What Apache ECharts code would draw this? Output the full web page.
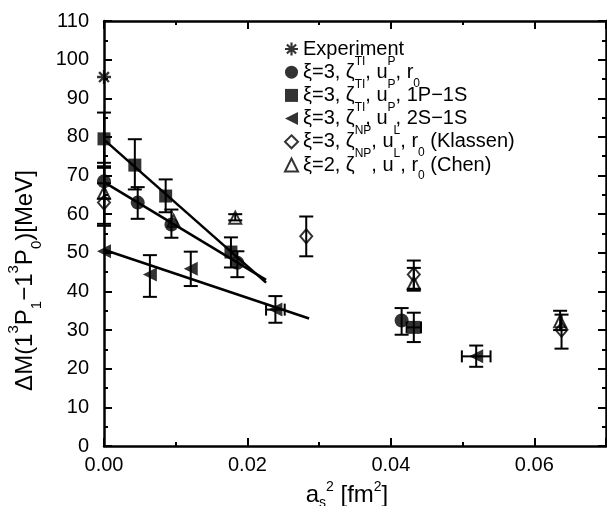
<!DOCTYPE html>
<html>
<head>
<meta charset="utf-8">
<title>1P fine structure vs a_s^2</title>
<script src="https://cdn.jsdelivr.net/npm/echarts@6/dist/echarts.min.js"></script>
<style>
  html, body { margin: 0; padding: 0; background: #fff; }
  #chart { width: 607px; height: 506px; }
</style>
</head>
<body>
<div id="chart"></div>
<script>
// each row: [a_s^2, dM, lower end of error, upper end of error, x error]
const experiment = [[0, 95.5, 95.5, 95.5, 0]]
const tiR0 = [
  [0, 68.5, 64.0, 73.3, 0],
  [0.0047, 63.0, 58.8, 67.0, 0],
  [0.0094, 57.3, 53.9, 61.2, 0],
  [0.0186, 47.4, 43.7, 50.4, 0],
  [0.0415, 32.5, 28.8, 35.7, 0]
]
const ti1P1S = [
  [0, 79.5, 72.4, 86.3, 0],
  [0.0043, 72.7, 66.4, 79.4, 0],
  [0.0086, 64.7, 60.5, 69.0, 0],
  [0.0177, 50.2, 46.2, 54.0, 0],
  [0.0432, 30.7, 26.9, 34.5, 0.001]
]
const ti2S1S = [
  [0, 50.4, 50.4, 50.4, 0],
  [0.0064, 44.4, 38.6, 49.4, 0],
  [0.0121, 45.9, 41.4, 50.3, 0],
  [0.0239, 35.3, 31.9, 38.8, 0.0013],
  [0.0519, 23.2, 20.5, 26.0, 0.002]
]
const klassen = [
  [0, 63.0, 57.5, 68.0, 0],
  [0.0282, 54.3, 49.1, 59.4, 0],
  [0.0432, 44.4, 40.2, 48.0, 0],
  [0.0638, 30.1, 25.2, 34.0, 0]
]
const chen = [
  [0, 65.6, 57.0, 72.0, 0],
  [0.0097, 58.3, 58.3, 58.3, 0],
  [0.0183, 59.1, 58.4, 60.0, 0],
  [0.0432, 42.2, 40.7, 46.1, 0],
  [0.0636, 32.3, 30.0, 35.0, 0]
]
// linear fits drawn in the figure
const fit1P1S = [[0, 79.3], [0.0226, 42.3]]
const fitR0 = [[0, 68.3], [0.0226, 43.0]]
const fit2S1S = [[0, 50.8], [0.0286, 33.0]]

const font = 'Liberation Sans, Arial, sans-serif'
const names = ['Experiment', 'tiR0', 'ti1P1S', 'ti2S1S', 'klassen', 'chen']
const legendText = {
  Experiment: 'Experiment',
  tiR0: 'ξ=3, ζ{sup|TI}, u{sup|P}, r{sub|0}',
  ti1P1S: 'ξ=3, ζ{sup|TI}, u{sup|P}, 1P−1S',
  ti2S1S: 'ξ=3, ζ{sup|TI}, u{sup|P}, 2S−1S',
  klassen: 'ξ=3, ζ{sup|NP}, u{sup|L}, r{sub|0} (Klassen)',
  chen: 'ξ=2, ζ{sup|NP}, u{sup|L}, r{sub|0} (Chen)'
}

const starPath = 'path://M-1,-6 L1,-6 L1,6 L-1,6 Z M-6,-1 L6,-1 L6,1 L-6,1 Z ' +
  'M-4.95,-3.54 L-3.54,-4.95 L4.95,3.54 L3.54,4.95 Z ' +
  'M-3.54,4.95 L-4.95,3.54 L3.54,-4.95 L4.95,-3.54 Z'
const leftTri = 'path://M0,5 L10,0 L10,10 Z'

function errorBars(params, api) {
  const x = api.value(0)
  const y = api.value(1)
  const lo = api.value(2)
  const hi = api.value(3)
  const xe = api.value(4)
  const style = { stroke: '#000', lineWidth: 2 }
  const cap = 7
  const children = []
  if (hi > lo) {
    const a = api.coord([x, lo])
    const b = api.coord([x, hi])
    children.push({ type: 'line', shape: { x1: a[0], y1: a[1], x2: b[0], y2: b[1] }, style })
    children.push({ type: 'line', shape: { x1: a[0] - cap, y1: a[1], x2: a[0] + cap, y2: a[1] }, style })
    children.push({ type: 'line', shape: { x1: b[0] - cap, y1: b[1], x2: b[0] + cap, y2: b[1] }, style })
  }
  if (xe > 0) {
    const l = api.coord([x - xe, y])
    const r = api.coord([x + xe, y])
    const c = 6
    children.push({ type: 'line', shape: { x1: l[0], y1: l[1], x2: r[0], y2: r[1] }, style })
    children.push({ type: 'line', shape: { x1: l[0], y1: l[1] - c, x2: l[0], y2: l[1] + c }, style })
    children.push({ type: 'line', shape: { x1: r[0], y1: r[1] - c, x2: r[0], y2: r[1] + c }, style })
  }
  return { type: 'group', children }
}

const xy = (rows) => rows.map((r) => [r[0], r[1]])
const openStyle = { color: 'rgba(255,255,255,0)', borderColor: '#000', borderWidth: 2 }
const fitLine = (d) => ({
  type: 'line', data: d, symbol: 'none', z: 2, silent: true,
  lineStyle: { color: '#000', width: 2.5 }
})

const chart = echarts.init(document.getElementById('chart'))
chart.setOption({
  animation: false,
  backgroundColor: '#fff',
  grid: { left: 104, right: 1, top: 21, bottom: 60, outerBoundsMode: 'none' },
  legend: {
    data: names,
    orient: 'vertical',
    left: 279,
    top: 27,
    itemWidth: 13,
    itemHeight: 13,
    itemGap: -10.8,
    formatter: (name) => legendText[name],
    textStyle: {
      fontFamily: font,
      fontSize: 20,
      color: '#000',
      lineHeight: 34,
      rich: {
        sup: { fontFamily: font, fontSize: 12, lineHeight: 12, verticalAlign: 'top', color: '#000' },
        sub: { fontFamily: font, fontSize: 12, lineHeight: 12, verticalAlign: 'bottom', color: '#000' }
      }
    }
  },
  xAxis: [
    {
      type: 'value',
      min: 0,
      max: 0.07,
      interval: 0.02,
      name: 'a{sub|s}{sup|2} [fm{sup|2}]',
      nameLocation: 'middle',
      nameGap: 27,
      nameTextStyle: {
        fontFamily: font, fontSize: 24, color: '#000', lineHeight: 30, padding: [0, 16, 0, 0],
        rich: {
          sup: { fontFamily: font, fontSize: 14, lineHeight: 14, verticalAlign: 'top', color: '#000' },
          sub: { fontFamily: font, fontSize: 14, lineHeight: 14, verticalAlign: 'bottom', color: '#000' }
        }
      },
      axisLine: { onZero: false, lineStyle: { color: '#000', width: 2.5 } },
      axisTick: { inside: true, length: 8, lineStyle: { width: 2 } },
      minorTick: { show: true, splitNumber: 2, length: 4, lineStyle: { color: '#000', width: 2 } },
      axisLabel: {
        fontFamily: font, fontSize: 20, color: '#000', margin: 9,
        showMaxLabel: false,
        formatter: (v) => v.toFixed(2)
      },
      splitLine: { show: false }
    },
    {
      type: 'value',
      position: 'top',
      min: 0,
      max: 0.07,
      interval: 0.02,
      axisLine: { onZero: false, lineStyle: { color: '#000', width: 2.5 } },
      axisTick: { inside: true, length: 8, lineStyle: { width: 2 } },
      minorTick: { show: true, splitNumber: 2, length: 4, lineStyle: { color: '#000', width: 2 } },
      axisLabel: { show: false },
      splitLine: { show: false }
    }
  ],
  yAxis: [
    {
      type: 'value',
      min: 0,
      max: 110,
      interval: 10,
      name: 'ΔM(1{sup|3}P{sub|1}−1{sup|3}P{sub|0})[MeV]',
      nameLocation: 'middle',
      nameGap: 58,
      nameTextStyle: {
        fontFamily: font, fontSize: 24, color: '#000', lineHeight: 38, padding: [0, 94, 0, 0],
        rich: {
          sup: { fontFamily: font, fontSize: 15, lineHeight: 15, verticalAlign: 'top', color: '#000' },
          sub: { fontFamily: font, fontSize: 15, lineHeight: 15, verticalAlign: 'bottom', color: '#000' }
        }
      },
      axisLine: { onZero: false, lineStyle: { color: '#000', width: 2.5 } },
      axisTick: { inside: true, length: 8, lineStyle: { width: 2 } },
      minorTick: { show: true, splitNumber: 2, length: 4, lineStyle: { color: '#000', width: 2 } },
      axisLabel: { fontFamily: font, fontSize: 20, color: '#000', margin: 15 },
      splitLine: { show: false }
    },
    {
      type: 'value',
      position: 'right',
      min: 0,
      max: 110,
      interval: 10,
      axisLine: { onZero: false, lineStyle: { color: '#000', width: 2.5 } },
      axisTick: { inside: true, length: 8, lineStyle: { width: 2 } },
      minorTick: { show: true, splitNumber: 2, length: 4, lineStyle: { color: '#000', width: 2 } },
      axisLabel: { show: false },
      splitLine: { show: false }
    }
  ],
  series: [
    fitLine(fit1P1S),
    fitLine(fitR0),
    fitLine(fit2S1S),
    {
      type: 'custom',
      renderItem: errorBars,
      encode: { x: 0, y: 1 },
      z: 1,
      silent: true,
      data: [].concat(tiR0, ti1P1S, ti2S1S, klassen, chen)
    },
    { name: 'Experiment', type: 'scatter', z: 3, symbol: starPath, symbolSize: 14, itemStyle: { color: '#000' }, data: xy(experiment) },
    { name: 'tiR0', type: 'scatter', z: 3, symbol: 'circle', symbolSize: 14, itemStyle: { color: '#000' }, data: xy(tiR0) },
    { name: 'ti1P1S', type: 'scatter', z: 3, symbol: 'rect', symbolSize: 13, itemStyle: { color: '#000' }, data: xy(ti1P1S) },
    { name: 'ti2S1S', type: 'scatter', z: 3, symbol: leftTri, symbolSize: 14, itemStyle: { color: '#000' }, data: xy(ti2S1S) },
    { name: 'klassen', type: 'scatter', z: 3, symbol: 'diamond', symbolSize: [12, 14], itemStyle: openStyle, data: xy(klassen) },
    { name: 'chen', type: 'scatter', z: 3, symbol: 'triangle', symbolSize: 12, itemStyle: openStyle, data: xy(chen) }
  ]
})
</script>
</body>
</html>
